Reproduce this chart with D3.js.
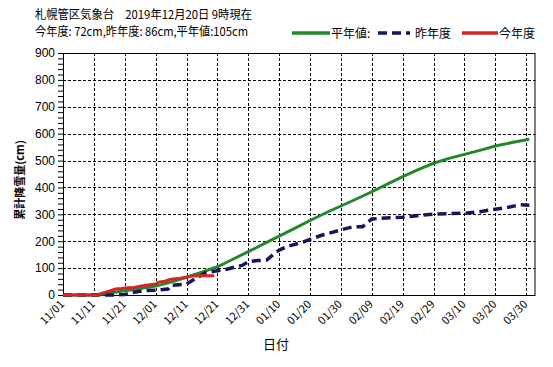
<!DOCTYPE html>
<html lang="ja">
<head>
<meta charset="utf-8">
<script src="https://d3js.org/d3.v7.min.js"></script>
<style>
  body { margin: 0; background: #fff; }
  svg { display: block; font-family: "Noto Sans CJK JP", "DejaVu Sans", sans-serif; }
</style>
</head>
<body>
<div id="chart"></div>
<script>
// 平年値 (normal cumulative snowfall)
const normalDates = ["2019-11-01","2019-11-11","2019-11-14","2019-11-17","2019-11-21","2019-11-26","2019-12-01","2019-12-06","2019-12-11","2019-12-16","2019-12-21","2019-12-26","2019-12-31","2020-01-05","2020-01-10","2020-01-15","2020-01-20","2020-01-25","2020-01-30","2020-02-04","2020-02-09","2020-02-14","2020-02-19","2020-02-24","2020-02-29","2020-03-05","2020-03-10","2020-03-15","2020-03-20","2020-03-25","2020-03-31"];
const normalSnow = [0,0,4,9,16,24,33,48,66,85,105,133,161,190,219,248,277,305,331,357,384,412,440,466,490,508,523,538,554,566,579];

// 昨年度 (previous season)
const lastDates = ["2019-11-01","2019-11-18","2019-11-21","2019-11-24","2019-11-27","2019-12-01","2019-12-05","2019-12-06","2019-12-11","2019-12-13","2019-12-15","2019-12-17","2019-12-21","2019-12-24","2019-12-27","2019-12-29","2019-12-31","2020-01-03","2020-01-06","2020-01-08","2020-01-10","2020-01-13","2020-01-17","2020-01-20","2020-01-24","2020-01-30","2020-02-03","2020-02-06","2020-02-09","2020-02-15","2020-02-19","2020-02-23","2020-02-29","2020-03-10","2020-03-15","2020-03-20","2020-03-25","2020-03-28","2020-03-31"];
const lastSnow = [0,0,2,10,16,18,22,36,41,55,68,82,90,96,105,110,124,128,130,150,167,182,194,207,223,242,254,254,283,287,289,294,301,304,310,319,328,336,334];

// 今年度 (this season, up to 12/20)
const thisDates = ["2019-11-01","2019-11-12","2019-11-14","2019-11-16","2019-11-18","2019-11-20","2019-11-22","2019-11-24","2019-11-26","2019-11-28","2019-12-01","2019-12-02","2019-12-04","2019-12-06","2019-12-09","2019-12-11","2019-12-13","2019-12-15","2019-12-20"];
const thisSnow = [0,0,8,14,22,24,27,28,33,36,41,48,51,59,62,66,71,72,72];

const tickDates = ["2019-11-01","2019-11-11","2019-11-21","2019-12-01","2019-12-11","2019-12-21","2019-12-31","2020-01-10","2020-01-20","2020-01-30","2020-02-09","2020-02-19","2020-02-29","2020-03-10","2020-03-20","2020-03-30"];
const yTicks = [0,100,200,300,400,500,600,700,800,900];

const W = 553, H = 367;
const pLeft = 63, pTop = 53, pRight = 535.5, pBottom = 295;
const parse = d3.timeParse("%Y-%m-%d");

const svg = d3.select("#chart").append("svg").attr("width", W).attr("height", H);

const x = d3.scaleTime()
    .domain([parse("2019-11-01"), parse("2020-04-02")])
    .range([pLeft, pRight]);
const y = d3.scaleLinear().domain([0, 900]).range([pBottom, pTop]);

// gridlines
svg.append("g").selectAll("line")
    .data(tickDates.slice(1))
    .join("line")
    .attr("x1", d => Math.round(x(parse(d))) + 0.5).attr("x2", d => Math.round(x(parse(d))) + 0.5)
    .attr("y1", pTop).attr("y2", pBottom)
    .attr("stroke", "#000").attr("stroke-dasharray", "3,2");
svg.append("g").selectAll("line")
    .data(yTicks.slice(1, -1))
    .join("line")
    .attr("x1", pLeft).attr("x2", pRight)
    .attr("y1", d => Math.round(y(d)) + 0.5).attr("y2", d => Math.round(y(d)) + 0.5)
    .attr("stroke", "#000").attr("stroke-dasharray", "3,2");

// y axis with minor ticks
const yAxis = svg.append("g").attr("transform", `translate(${pLeft},0)`)
    .call(d3.axisLeft(y).tickValues(d3.range(0, 901, 20)).tickSize(5)
        .tickFormat(d => d % 100 === 0 ? d : ""));
yAxis.select(".domain").remove();
yAxis.selectAll("text").attr("font-size", 12).attr("fill", "#000").attr("x", -8);
yAxis.selectAll("line").attr("stroke", "#000");

// x tick labels
svg.append("g").selectAll("text")
    .data(tickDates)
    .join("text")
    .attr("transform", d => `translate(${x(parse(d)) + 2},${pBottom + 10}) rotate(-45)`)
    .attr("text-anchor", "end")
    .attr("font-size", 11)
    .text(d => d3.timeFormat("%m/%d")(parse(d)));

// frame
svg.append("rect")
    .attr("x", pLeft + 0.5).attr("y", pTop + 0.5)
    .attr("width", pRight - pLeft - 1).attr("height", pBottom - pTop)
    .attr("fill", "none").attr("stroke", "#000");

const line = d3.line().x(d => x(parse(d[0]))).y(d => y(d[1]));

svg.append("path")
    .datum(d3.zip(normalDates, normalSnow))
    .attr("fill", "none").attr("stroke", "#23882a").attr("stroke-width", 3)
    .attr("d", line);
svg.append("path")
    .datum(d3.zip(lastDates, lastSnow))
    .attr("fill", "none").attr("stroke", "#161660").attr("stroke-width", 3.5)
    .attr("stroke-dasharray", "9,5")
    .attr("d", line);
svg.append("path")
    .datum(d3.zip(thisDates, thisSnow))
    .attr("fill", "none").attr("stroke", "#d42424").attr("stroke-width", 3)
    .attr("d", line);

// titles
svg.append("text").attr("x", 35).attr("y", 19).attr("font-size", 12)
    .attr("textLength", 217).attr("lengthAdjust", "spacingAndGlyphs")
    .text("札幌管区気象台　2019年12月20日 9時現在");
svg.append("text").attr("x", 35).attr("y", 36).attr("font-size", 12)
    .attr("textLength", 213).attr("lengthAdjust", "spacingAndGlyphs")
    .text("今年度: 72cm,昨年度: 86cm,平年値:105cm");

// legend
const legend = [
    { label: "平年値:", color: "#23882a", x1: 292, x2: 330, dash: null },
    { label: "昨年度", color: "#161660", x1: 378, x2: 410, dash: "9,5" },
    { label: "今年度", color: "#d42424", x1: 462, x2: 498, dash: null }
];
const lg = svg.append("g").selectAll("g").data(legend).join("g");
lg.append("line")
    .attr("x1", d => d.x1).attr("x2", d => d.x2).attr("y1", 33).attr("y2", 33)
    .attr("stroke", d => d.color).attr("stroke-width", 3.5)
    .attr("stroke-dasharray", d => d.dash);
lg.append("text")
    .attr("x", d => d.x2 + (d.dash ? 5 : 1)).attr("y", 37.5)
    .attr("font-size", 12)
    .text(d => d.label);

// axis titles
svg.append("text")
    .attr("transform", "translate(24,180) rotate(-90)")
    .attr("text-anchor", "middle").attr("font-size", 11).attr("font-weight", "bold")
    .text("累計降雪量(cm)");
svg.append("text")
    .attr("x", 276).attr("y", 349).attr("text-anchor", "middle").attr("font-size", 13)
    .text("日付");
</script>
</body>
</html>
